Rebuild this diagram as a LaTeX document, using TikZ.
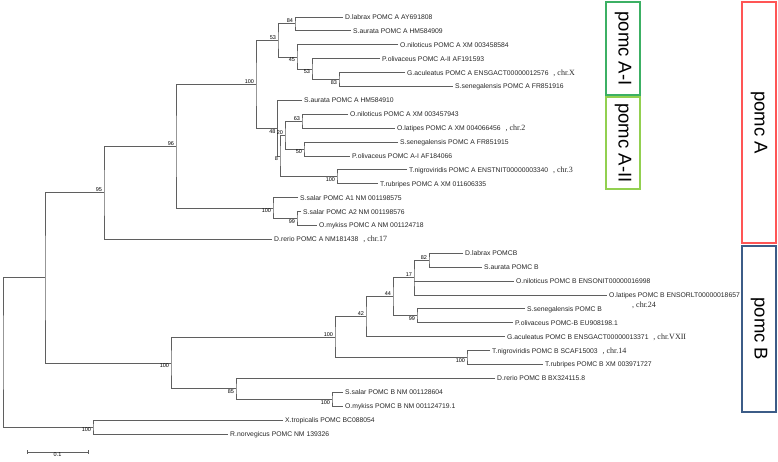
\documentclass[tikz,border=0pt]{standalone}
\usepackage{fontspec}
\setmainfont{Liberation Sans}
\newfontfamily\chrfont{Liberation Serif}
\usetikzlibrary{positioning,calc}
\definecolor{phyline}{RGB}{95,95,95}
\definecolor{cladeAI}{RGB}{60,176,100}
\definecolor{cladeAII}{RGB}{146,208,80}
\definecolor{cladeA}{RGB}{255,85,85}
\definecolor{cladeB}{RGB}{60,92,135}
\tikzset{
  phy branch/.style={draw=phyline,line width=0.9pt},
  phy leaf/.style={anchor=west,inner xsep=2pt,inner ysep=0pt,text height=4.9pt,
    text depth=0pt,font=\fontsize{6.8}{8}\selectfont,text=black!85},
  phy chr/.style={inner xsep=0pt,inner ysep=0pt,font=\chrfont\fontsize{8}{9}\selectfont,
    text=black!85},
  phy boot/.style={inner xsep=1.8pt,inner ysep=0.8pt,font=\fontsize{5.5}{6}\selectfont},
  phy boot up/.style={phy boot,anchor=south east},
  phy boot down/.style={phy boot,anchor=north east},
  phy clade/.style={draw,line width=1.4pt,rotate=-90,minimum height=34pt,inner sep=0pt,
    font=\fontsize{18.5}{20}\selectfont}
}
\begin{document}
\begin{tikzpicture}[x=1pt,y=-1pt]
  \useasboundingbox (0,0) rectangle (778,462);

  % pomc A leaves
  \node[phy leaf] (dlabA)  at (343,17.0)  {D.labrax POMC A AY691808};
  \node[phy leaf] (saurA1) at (351,30.9)  {S.aurata POMC A HM584909};
  \node[phy leaf] (onilA1) at (398,44.8)  {O.niloticus POMC A XM 003458584};
  \node[phy leaf] (poliA2) at (380,58.7)  {P.olivaceus POMC A-II AF191593};
  \node[phy leaf] (gacuA)  at (405,72.6)  {G.aculeatus POMC A ENSGACT00000012576};
  \node[phy leaf] (ssenA1) at (453,86.5)  {S.senegalensis POMC A FR851916};
  \node[phy leaf] (saurA2) at (302,100.4) {S.aurata POMC A HM584910};
  \node[phy leaf] (onilA2) at (348,114.3) {O.niloticus POMC A XM 003457943};
  \node[phy leaf] (olatA)  at (395,128.2) {O.latipes POMC A XM 004066456};
  \node[phy leaf] (ssenA2) at (398,142.1) {S.senegalensis POMC A FR851915};
  \node[phy leaf] (poliA1) at (350,156.0) {P.olivaceus POMC A-I AF184066};
  \node[phy leaf] (tnigA)  at (407,169.9) {T.nigroviridis POMC A ENSTNIT00000003340};
  \node[phy leaf] (trubA)  at (378,183.8) {T.rubripes POMC A XM 011606335};
  \node[phy leaf] (ssalA1) at (298,197.7) {S.salar POMC A1 NM 001198575};
  \node[phy leaf] (ssalA2) at (301,211.6) {S.salar POMC A2 NM 001198576};
  \node[phy leaf] (omykA)  at (317,225.5) {O.mykiss POMC A NM 001124718};
  \node[phy leaf] (dreA)   at (272,239.4) {D.rerio POMC A NM181438};

  % pomc B leaves and outgroups
  \node[phy leaf] (dlabB)  at (463,253.3) {D.labrax POMCB};
  \node[phy leaf] (saurB)  at (482,267.2) {S.aurata POMC B};
  \node[phy leaf] (onilB)  at (514,281.1) {O.niloticus POMC B ENSONIT00000016998};
  \node[phy leaf] (olatB)  at (607,295.0) {O.latipes POMC B ENSORLT00000018657};
  \node[phy leaf] (ssenB)  at (525,308.9) {S.senegalensis POMC B};
  \node[phy leaf] (poliB)  at (513,322.8) {P.olivaceus POMC-B EU908198.1};
  \node[phy leaf] (gacuB)  at (505,336.7) {G.aculeatus POMC B ENSGACT00000013371};
  \node[phy leaf] (tnigB)  at (490,350.6) {T.nigroviridis POMC B SCAF15003};
  \node[phy leaf] (trubB)  at (543,364.5) {T.rubripes POMC B XM 003971727};
  \node[phy leaf] (dreB)   at (495,378.4) {D.rerio POMC B BX324115.8};
  \node[phy leaf] (ssalB)  at (343,392.3) {S.salar POMC B NM 001128604};
  \node[phy leaf] (omykB)  at (343,406.2) {O.mykiss POMC B NM 001124719.1};
  \node[phy leaf] (xtro)   at (283,420.1) {X.tropicalis POMC BC088054};
  \node[phy leaf] (rnor)   at (228,434.0) {R.norvegicus POMC NM 139326};

  % chromosome notes
  \node[phy chr,base right=2.5pt of gacuA] (chrX)  {, chr.X};
  \node[phy chr,base right=2.5pt of olatA] (chr2)  {, chr.2};
  \node[phy chr,base right=2.5pt of tnigA] (chr3)  {, chr.3};
  \node[phy chr,base right=2.5pt of dreA]  (chr17) {, chr.17};
  \node[phy chr,anchor=west] (chr24) at (632,305) {, chr.24};
  \node[phy chr,base right=2.5pt of gacuB] (chrVXII) {, chr.VXII};
  \node[phy chr,base right=2.5pt of tnigB] (chr14) {, chr.14};

  % internal nodes
  \coordinate (n84)    at (295,23.95);
  \coordinate (n83)    at (339,79.55);
  \coordinate (n53b)   at (312,69.13);
  \coordinate (n45)    at (297,56.96);
  \coordinate (n53a)   at (278,40.46);
  \coordinate (n63)    at (302,121.25);
  \coordinate (n50)    at (304,149.05);
  \coordinate (n20)    at (285,135.15);
  \coordinate (n100t)  at (337,176.85);
  \coordinate (n8)     at (280,156.0);
  \coordinate (n48)    at (277.5,128.2);
  \coordinate (n100a)  at (256,84.33);
  \coordinate (n99a)   at (297,218.55);
  \coordinate (n100s)  at (273,208.13);
  \coordinate (n96)    at (176,146.23);
  \coordinate (n95)    at (104,192.8);
  \coordinate (n82)    at (429,260.25);
  \coordinate (n17)    at (414,277.63);
  \coordinate (n99b)   at (417,315.85);
  \coordinate (n44)    at (393,296.74);
  \coordinate (n42)    at (366,316.72);
  \coordinate (n100tB) at (467,357.55);
  \coordinate (n100b)  at (335,337.13);
  \coordinate (n100sb) at (332,399.25);
  \coordinate (n85)    at (236,388.83);
  \coordinate (nB)     at (171,362.98);
  \coordinate (nAB)    at (45,277.9);
  \coordinate (nFrog)  at (93,427.05);
  \coordinate (root)   at (3,352.5);

  % branches, pomc A
  \draw[phy branch] (dlabA.west) -| (n84) |- (saurA1.west);
  \draw[phy branch] (gacuA.west) -| (n83) |- (ssenA1.west);
  \draw[phy branch] (poliA2.west) -| (n53b) |- (n83);
  \draw[phy branch] (onilA1.west) -| (n45) |- (n53b);
  \draw[phy branch] (n84) -| (n53a) |- (n45);
  \draw[phy branch] (onilA2.west) -| (n63) |- (olatA.west);
  \draw[phy branch] (ssenA2.west) -| (n50) |- (poliA1.west);
  \draw[phy branch] (n63) -| (n20) |- (n50);
  \draw[phy branch] (tnigA.west) -| (n100t) |- (trubA.west);
  \draw[phy branch] (n20) -| (n8) |- (n100t);
  \draw[phy branch] (saurA2.west) -| (n48) |- (n8);
  \draw[phy branch] (n53a) -| (n100a) |- (n48);
  \draw[phy branch] (ssalA2.west) -| (n99a) |- (omykA.west);
  \draw[phy branch] (ssalA1.west) -| (n100s) |- (n99a);
  \draw[phy branch] (n100a) -| (n96) |- (n100s);
  \draw[phy branch] (n96) -| (n95) |- (dreA.west);

  % branches, pomc B
  \draw[phy branch] (dlabB.west) -| (n82) |- (saurB.west);
  \draw[phy branch] (n82) -| (n17) |- (olatB.west);
  \draw[phy branch] (n17 |- onilB.west) -- (onilB.west);
  \draw[phy branch] (ssenB.west) -| (n99b) |- (poliB.west);
  \draw[phy branch] (n17) -| (n44) |- (n99b);
  \draw[phy branch] (n44) -| (n42) |- (gacuB.west);
  \draw[phy branch] (tnigB.west) -| (n100tB) |- (trubB.west);
  \draw[phy branch] (n42) -| (n100b) |- (n100tB);
  \draw[phy branch] (ssalB.west) -| (n100sb) |- (omykB.west);
  \draw[phy branch] (dreB.west) -| (n85) |- (n100sb);
  \draw[phy branch] (n100b) -| (nB) |- (n85);

  % deep splits and outgroups
  \draw[phy branch] (n95) -| (nAB) |- (nB);
  \draw[phy branch] (xtro.west) -| (nFrog) |- (rnor.west);
  \draw[phy branch] (nAB) -| (root) |- (nFrog);

  % bootstrap values
  \node[phy boot up] (b84) at (n84) {84};
  \node[phy boot up] (b53a) at (n53a) {53};
  \node[phy boot up] (b100a) at (n100a) {100};
  \node[phy boot up] (b63) at (n63) {63};
  \node[phy boot up] (b20) at (n20) {20};
  \node[phy boot up] (b96) at (n96) {96};
  \node[phy boot up] (b95) at (n95) {95};
  \node[phy boot up] (b82) at (n82) {82};
  \node[phy boot up] (b17) at (n17) {17};
  \node[phy boot up] (b44) at (n44) {44};
  \node[phy boot up] (b42) at (n42) {42};
  \node[phy boot up] (b100b) at (n100b) {100};
  \node[phy boot down] (b45) at (n45) {45};
  \node[phy boot down] (b53b) at (n53b) {53};
  \node[phy boot down] (b83) at (n83) {83};
  \node[phy boot down] (b48) at (n48) {48};
  \node[phy boot down] (b8) at (n8) {8};
  \node[phy boot down] (b50) at (n50) {50};
  \node[phy boot down] (b100t) at (n100t) {100};
  \node[phy boot down] (b100s) at (n100s) {100};
  \node[phy boot down] (b99a) at (n99a) {99};
  \node[phy boot down] (b99b) at (n99b) {99};
  \node[phy boot down] (b100tB) at (n100tB) {100};
  \node[phy boot down] (b100B) at (nB) {100};
  \node[phy boot down] (b85) at (n85) {85};
  \node[phy boot down] (b100sb) at (n100sb) {100};
  \node[phy boot down] (b100F) at (nFrog) {100};

  % scale bar
  \coordinate (sbL) at (27,452);
  \coordinate (sbR) at (88,452);
  \draw[phy branch,line width=0.8pt] (sbL) -- (sbR);
  \draw[phy branch,line width=0.8pt] ([yshift=2pt]sbL) -- ([yshift=-2pt]sbL);
  \draw[phy branch,line width=0.8pt] ([yshift=2pt]sbR) -- ([yshift=-2pt]sbR);
  \node[phy boot,anchor=north] (sbT) at ($(sbL)!0.5!(sbR)$) {0.1};

  % clade boxes
  \node[phy clade,draw=cladeAI,minimum width=93pt] (boxAI) at (623,48.5) {pomc A-I};
  \node[phy clade,draw=cladeAII,minimum width=92pt] (boxAII) at (623,143) {pomc A-II};
  \node[phy clade,draw=cladeA,minimum width=241pt] (boxA) at (759,122.5) {pomc A};
  \node[phy clade,draw=cladeB,minimum width=166pt] (boxB) at (759,329) {pomc B};
\end{tikzpicture}
\end{document}
